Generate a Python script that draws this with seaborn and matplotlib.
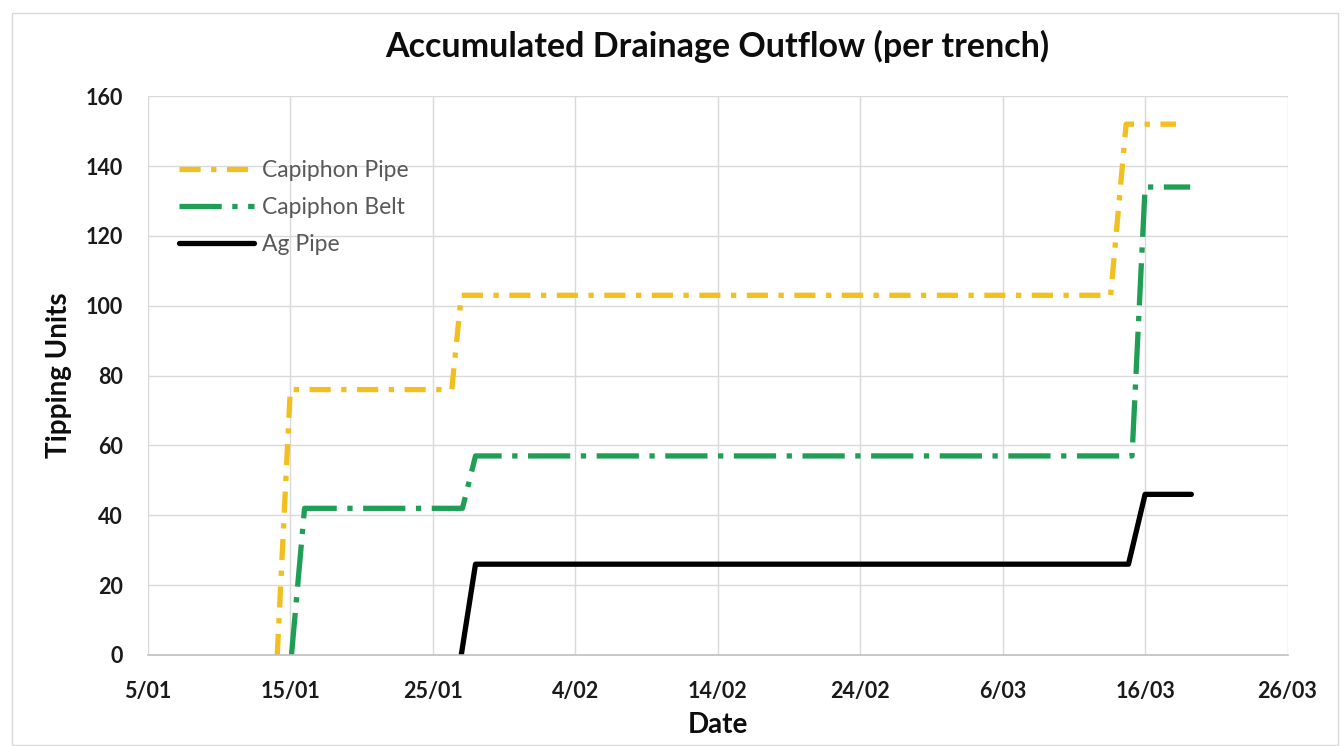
import numpy as np
import pandas as pd
import matplotlib
matplotlib.use("Agg")
import matplotlib.pyplot as plt
import matplotlib.dates as mdates
from matplotlib.patches import Rectangle
import seaborn as sns

# values (corner points of each series)
pipe_dates = ["2019-01-14 02:00", "2019-01-15 00:00", "2019-01-26 08:00", "2019-01-27 00:00",
              "2019-03-13 14:00", "2019-03-14 16:00", "2019-03-18 04:00"]
pipe_vals = [0, 76, 76, 103, 103, 152, 152]

belt_dates = ["2019-01-15 02:00", "2019-01-16 00:00", "2019-01-27 02:00", "2019-01-28 00:00",
              "2019-03-15 02:00", "2019-03-16 00:00", "2019-03-19 04:00"]
belt_vals = [0, 42, 42, 57, 57, 134, 134]

ag_dates = ["2019-01-27 00:00", "2019-01-28 00:00", "2019-03-14 20:00", "2019-03-16 00:00",
            "2019-03-19 06:00"]
ag_vals = [0, 26, 26, 46, 46]

series_names = ["Capiphon Pipe", "Capiphon Belt", "Ag Pipe"]
colors = ["#F2BF1F", "#1F9E56", "#000000"]

frames = []
for name, d, v in zip(series_names, [pipe_dates, belt_dates, ag_dates], [pipe_vals, belt_vals, ag_vals]):
    frames.append(pd.DataFrame({"Date": pd.to_datetime(d), "Tipping Units": v, "series": name}))
df = pd.concat(frames, ignore_index=True)

sns.set_style("white")
plt.rcParams['font.family'] = ['Lato', 'DejaVu Sans']

fig = plt.figure(figsize=(13.44, 7.46), dpi=100)
ax = fig.add_axes([0.110, 0.122, 0.848, 0.749])

sns.lineplot(data=df, x="Date", y="Tipping Units", hue="series", style="series",
             hue_order=series_names, style_order=series_names,
             palette=dict(zip(series_names, colors)),
             dashes={"Capiphon Pipe": (4, 2, 1, 2), "Capiphon Belt": (8, 2, 1, 2), "Ag Pipe": ""},
             estimator=None, sort=False, linewidth=3.8, ax=ax)

ax.set_ylim(0, 160)
ax.set_yticks(np.arange(0, 161, 20))
ax.set_xlim(pd.Timestamp("2019-01-05"), pd.Timestamp("2019-03-26"))
ax.set_xticks(pd.date_range("2019-01-05", "2019-03-26", freq="10D"))
ax.xaxis.set_major_formatter(plt.FuncFormatter(
    lambda x, pos: "%d/%02d" % (mdates.num2date(x).day, mdates.num2date(x).month)))

ax.grid(True, color="#D9D9D9", linewidth=1)
ax.set_axisbelow(True)
for s in ["top", "right", "left"]:
    ax.spines[s].set_visible(False)
ax.spines["bottom"].set_color("#BFBFBF")
ax.spines["bottom"].set_linewidth(1.2)
ax.tick_params(length=0, labelsize=15.5, labelcolor="#1A1A1A")
ax.tick_params(axis="y", pad=18)
ax.tick_params(axis="x", pad=19)
for lab in ax.get_xticklabels() + ax.get_yticklabels():
    lab.set_fontweight("bold")

ax.set_title("Accumulated Drainage Outflow (per trench)", fontsize=24.5, fontweight="bold",
             color="#0D0D0D", pad=28)
ax.set_xlabel("Date", fontsize=20, fontweight="bold", color="#0D0D0D", labelpad=7)
ax.set_ylabel("Tipping Units", fontsize=20, fontweight="bold", color="#0D0D0D", labelpad=10)

leg = ax.legend(loc="upper left", bbox_to_anchor=(0.027, 0.885), frameon=False,
                fontsize=16.5, handlelength=3.3, labelspacing=0.68, handletextpad=0.35,
                borderpad=0, borderaxespad=0)
for t in leg.get_texts():
    t.set_color("#595959")

fig.patches.append(Rectangle((12 / 1344, 0.002), 1326 / 1344, 0.98, transform=fig.transFigure,
                             fill=False, edgecolor="#D9D9D9", linewidth=1))

fig.savefig("out.png", dpi=100)
